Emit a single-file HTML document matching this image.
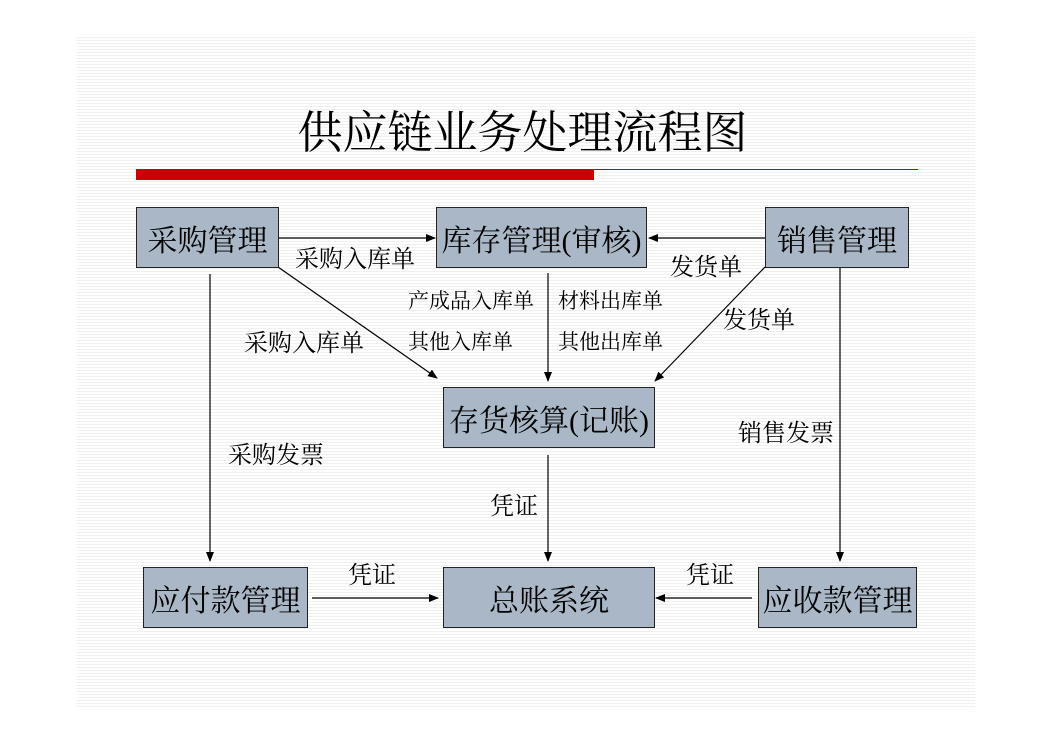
<!DOCTYPE html>
<html><head><meta charset="utf-8"><style>
body{margin:0;width:1052px;height:744px;background:#fff;position:relative;overflow:hidden;font-family:"Liberation Serif","Noto Serif CJK SC",serif;}
.bg{position:absolute;left:77px;top:35px;width:898px;height:673px;background:repeating-linear-gradient(to bottom,#fff 0,#fff 2px,#f0f0f0 2px,#f0f0f0 3px);}
.t{position:absolute;white-space:nowrap;color:#000;}
.box{position:absolute;background:#a9b7c6;border:1.5px solid #222;box-sizing:border-box;display:flex;align-items:center;justify-content:center;font-size:30px;white-space:nowrap;}
svg{position:absolute;left:0;top:0;}
</style></head><body>
<div class="bg"></div>
<div class="t" style="left:0;width:1045px;text-align:center;top:96px;font-size:45px;">供应链业务处理流程图</div>
<div style="position:absolute;left:136px;top:169px;width:782px;height:1px;background:#c00;"></div>
<div style="position:absolute;left:136px;top:170px;width:458px;height:10px;background:#c00;"></div>
<svg width="1052" height="744">
<defs><marker id="a" markerWidth="10" markerHeight="8" refX="9" refY="4" orient="auto" markerUnits="userSpaceOnUse"><path d="M0,0 L10,4 L0,8 z" fill="#000"/></marker></defs>
<g stroke="#000" stroke-width="1.2" fill="none" marker-end="url(#a)">
<line x1="278" y1="238" x2="435" y2="238"/>
<line x1="765" y1="238" x2="649" y2="238"/>
<line x1="278" y1="267" x2="437" y2="378"/>
<line x1="548" y1="273" x2="548" y2="381"/>
<line x1="765" y1="267" x2="655" y2="381"/>
<line x1="210" y1="274" x2="210" y2="561"/>
<line x1="840" y1="268" x2="840" y2="561"/>
<line x1="548" y1="455" x2="548" y2="561"/>
<line x1="312" y1="598" x2="438" y2="598"/>
<line x1="752" y1="598" x2="656" y2="598"/>
</g></svg>
<div class="box" style="left:136px;top:207px;width:143px;height:61px;">采购管理</div>
<div class="box" style="left:436px;top:207px;width:211px;height:61px;">库存管理(审核)</div>
<div class="box" style="left:765px;top:207px;width:144px;height:61px;">销售管理</div>
<div class="box" style="left:443px;top:387px;width:212px;height:61px;">存货核算(记账)</div>
<div class="box" style="left:143px;top:567px;width:165px;height:61px;">应付款管理</div>
<div class="box" style="left:443px;top:567px;width:212px;height:61px;">总账系统</div>
<div class="box" style="left:758px;top:567px;width:159px;height:61px;">应收款管理</div>
<div class="t" style="left:295px;top:239px;font-size:24px;">采购入库单</div>
<div class="t" style="left:670px;top:247px;font-size:24px;">发货单</div>
<div class="t" style="left:408px;top:285px;font-size:21px;">产成品入库单</div>
<div class="t" style="left:558px;top:285px;font-size:21px;">材料出库单</div>
<div class="t" style="left:408px;top:326px;font-size:21px;">其他入库单</div>
<div class="t" style="left:558px;top:326px;font-size:21px;">其他出库单</div>
<div class="t" style="left:244px;top:323px;font-size:24px;">采购入库单</div>
<div class="t" style="left:723px;top:300px;font-size:24px;">发货单</div>
<div class="t" style="left:738px;top:413px;font-size:24px;">销售发票</div>
<div class="t" style="left:228px;top:435px;font-size:24px;">采购发票</div>
<div class="t" style="left:490px;top:486px;font-size:24px;">凭证</div>
<div class="t" style="left:348px;top:555px;font-size:24px;">凭证</div>
<div class="t" style="left:686px;top:555px;font-size:24px;">凭证</div>
</body></html>
